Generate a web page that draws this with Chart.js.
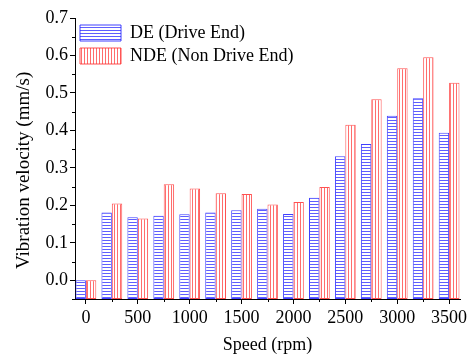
<!DOCTYPE html>
<html>
<head>
<meta charset="utf-8">
<script src="https://cdn.jsdelivr.net/npm/chart.js@4/dist/chart.umd.min.js"></script>
<style>
  html, body { margin: 0; padding: 0; background: #fff; }
  canvas { display: block; }
</style>
</head>
<body>
<canvas id="grafico" width="472" height="362"></canvas>
<script>
// dados
const velocidades = [0, 250, 500, 750, 1000, 1250, 1500, 1750, 2000, 2250, 2500, 2750, 3000, 3250, 3500];
const valoresDE  = [0.0, 0.181, 0.168, 0.172, 0.176, 0.181, 0.187, 0.191, 0.177, 0.220, 0.331, 0.364, 0.439, 0.486, 0.394];
const valoresNDE = [0.0, 0.205, 0.165, 0.256, 0.245, 0.232, 0.230, 0.202, 0.209, 0.249, 0.415, 0.483, 0.566, 0.595, 0.527];
const ticksX = [0, 500, 1000, 1500, 2000, 2500, 3000, 3500];
const ticksY = [0.0, 0.1, 0.2, 0.3, 0.4, 0.5, 0.6, 0.7];
const menoresX = [250, 750, 1250, 1750, 2250, 2750, 3250];
const menoresY = [-0.05, 0.05, 0.15, 0.25, 0.35, 0.45, 0.55, 0.65];

const fonte = '"Liberation Serif", "Times New Roman", serif';
Chart.defaults.font.family = fonte;
Chart.defaults.font.size = 18;
Chart.defaults.color = '#000';

// hachuras (linhas horizontais azuis / verticais vermelhas)
function hachura(cor, vertical) {
    const c = document.createElement('canvas');
    c.width = 3; c.height = 3;
    const g = c.getContext('2d');
    g.fillStyle = '#fff';
    g.fillRect(0, 0, 3, 3);
    g.fillStyle = cor;
    if (vertical) g.fillRect(0, 0, 1, 3);
    else g.fillRect(0, 0, 3, 1);
    return g.createPattern(c, 'repeat');
}
const ctx = document.getElementById('grafico').getContext('2d');

// marcas menores dos eixos
const marcasMenores = {
    id: 'marcasMenores',
    afterDraw(chart) {
        const { ctx, chartArea, scales } = chart;
        ctx.save();
        ctx.strokeStyle = '#000';
        ctx.lineWidth = 1;
        ctx.beginPath();
        menoresX.forEach(v => {
            const x = Math.round(scales.x.getPixelForValue(v)) + 0.5;
            ctx.moveTo(x, chartArea.bottom);
            ctx.lineTo(x, chartArea.bottom + 3);
        });
        menoresY.forEach(v => {
            const y = Math.round(scales.y.getPixelForValue(v)) + 0.5;
            ctx.moveTo(chartArea.left - 3, y);
            ctx.lineTo(chartArea.left, y);
        });
        ctx.stroke();
        ctx.restore();
    }
};

// legenda dentro da área do gráfico, logo abaixo do topo
const legendaNoTopo = {
    id: 'legendaNoTopo',
    afterLayout(chart) {
        if (chart.legend) chart.legend.top = chart.chartArea.top + 1;
    }
};

function desenhar() {
new Chart(ctx, {
    type: 'bar',
    data: {
        datasets: [{
            label: 'DE (Drive End)',
            data: velocidades.map((v, i) => ({ x: v, y: valoresDE[i] })),
            backgroundColor: hachura('rgba(40,40,255,0.75)', false),
            borderColor: 'rgba(30,30,255,0.85)',
            borderWidth: 1,
            borderSkipped: false,
            base: -0.05
        }, {
            label: 'NDE (Non Drive End)',
            data: velocidades.map((v, i) => ({ x: v, y: valoresNDE[i] })),
            backgroundColor: hachura('rgba(255,60,60,0.75)', true),
            borderColor: 'rgba(255,50,50,0.85)',
            borderWidth: 1,
            borderSkipped: false,
            base: -0.05
        }]
    },
    options: {
        responsive: false,
        animation: false,
        categoryPercentage: 0.8,
        barPercentage: 1.0,
        layout: { padding: { top: 18, right: 12, left: 0, bottom: 0 } },
        plugins: {
            legend: {
                position: 'chartArea',
                align: 'start',
                labels: {
                    boxWidth: 41,
                    boxHeight: 16,
                    padding: 5,
                    color: '#000',
                    font: { family: fonte, size: 18 }
                }
            },
            tooltip: { enabled: false }
        },
        scales: {
            x: {
                type: 'linear',
                offset: false,
                min: -105,
                max: 3605,
                afterBuildTicks: s => { s.ticks = ticksX.map(v => ({ value: v })); },
                afterFit: s => { s.height = 63; },
                grid: { offset: false, drawOnChartArea: false, tickLength: 5, tickColor: '#000' },
                border: { color: '#000', width: 1 },
                ticks: {
                    color: '#000',
                    padding: 3,
                    font: { family: fonte, size: 18 },
                    callback: v => String(v)
                },
                title: {
                    display: true,
                    text: 'Speed (rpm)',
                    color: '#000',
                    font: { family: fonte, size: 18 },
                    padding: { top: 0, bottom: 6 }
                }
            },
            y: {
                min: -0.05,
                max: 0.7,
                afterBuildTicks: s => { s.ticks = ticksY.map(v => ({ value: v })); },
                afterFit: s => { s.width = 75; },
                grid: { drawOnChartArea: false, tickLength: 5, tickColor: '#000' },
                border: { color: '#000', width: 1 },
                ticks: {
                    color: '#000',
                    padding: 2,
                    font: { family: fonte, size: 18 },
                    callback: v => v.toFixed(1)
                },
                title: {
                    display: true,
                    text: 'Vibration velocity (mm/s)     ',
                    color: '#000',
                    font: { family: fonte, size: 19 },
                    padding: { top: 13, bottom: 0 }
                }
            }
        }
    },
    plugins: [marcasMenores, legendaNoTopo]
});
}

// garante a fonte serifada antes de desenhar
if (document.fonts && document.fonts.load) {
    document.fonts.load('18px "Liberation Serif"').then(desenhar, desenhar);
} else {
    desenhar();
}
</script>
</body>
</html>
